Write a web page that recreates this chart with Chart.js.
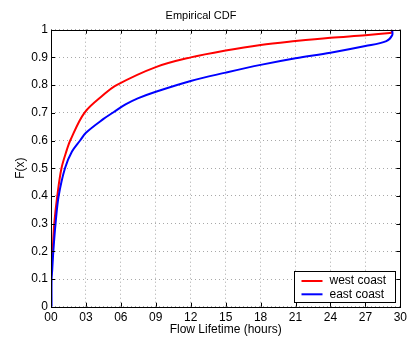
<!DOCTYPE html>
<html>
<head>
<meta charset="utf-8">
<script src="https://cdn.jsdelivr.net/npm/chart.js@4/dist/chart.umd.min.js"></script>
<style>
  html, body { margin: 0; padding: 0; background: #fff; }
  #wrap { width: 411px; height: 337px; }
</style>
</head>
<body>
<div id="wrap"><canvas id="cdf-chart"></canvas></div>
<script>
// start: Data
const westHours = [0, 0, 0.03, 0.08, 0.14, 0.28, 0.54, 0.9, 1.36, 1.65, 2.87, 4.48, 5.63, 9, 12, 15, 18, 21, 24, 27, 29.1, 29.25, 29.25]
const westF     = [0, 0.10, 0.13, 0.16, 0.2, 0.3, 0.4, 0.5, 0.566, 0.6, 0.7, 0.764, 0.8, 0.865, 0.90, 0.925, 0.945, 0.959, 0.971, 0.98, 0.988, 0.99, 1.0]
const eastHours = [0.05, 0.05, 0.1, 0.2, 0.39, 0.66, 1.2, 1.8, 2.5, 3, 4.48, 5.4, 6.4, 7.45, 9, 12, 15, 18, 21, 24, 27, 28.8, 29.3, 29.3]
const eastF     = [0, 0.10, 0.13, 0.2, 0.3, 0.4, 0.5, 0.56, 0.6, 0.628, 0.677, 0.703, 0.73, 0.752, 0.776, 0.815, 0.845, 0.873, 0.897, 0.917, 0.941, 0.959, 0.98, 1.0]
const seriesNames = ['west coast', 'east coast']
const xTickStep = 3
const yTickStep = 0.1
// end: Data

const FONT = "'Liberation Sans', Arial, Helvetica, sans-serif"

function toPoints(xs, ys) {
    return xs.map(function (x, i) { return { x: x, y: ys[i] } })
}

// frame, inward tick marks and boxed legend, matlab style
const matlabFrame = {
    id: 'matlabFrame',
    afterDraw: function (chart) {
        const ctx = chart.ctx
        const a = chart.chartArea
        const xs = chart.scales.x
        const ys = chart.scales.y
        ctx.save()
        ctx.strokeStyle = '#000'
        ctx.lineWidth = 1
        ctx.beginPath()
        xs.ticks.forEach(function (t) {
            const px = Math.round(xs.getPixelForValue(t.value)) + 0.5
            ctx.moveTo(px, a.bottom); ctx.lineTo(px, a.bottom - 4)
            ctx.moveTo(px, a.top); ctx.lineTo(px, a.top + 4)
        })
        ys.ticks.forEach(function (t) {
            const py = Math.round(ys.getPixelForValue(t.value)) + 0.5
            ctx.moveTo(a.left, py); ctx.lineTo(a.left + 4, py)
            ctx.moveTo(a.right, py); ctx.lineTo(a.right - 4, py)
        })
        ctx.stroke()
        ctx.strokeRect(Math.round(a.left) + 0.5, Math.round(a.top) + 0.5,
            Math.round(a.right - a.left), Math.round(a.bottom - a.top))

        // legend box
        const bx = Math.round(a.right) - 105.5
        const by = Math.round(a.bottom) - 35.5
        const bw = 101
        const bh = 31
        ctx.fillStyle = '#fff'
        ctx.fillRect(bx, by, bw, bh)
        ctx.strokeRect(bx, by, bw, bh)
        ctx.font = '12px ' + FONT
        ctx.textBaseline = 'middle'
        chart.data.datasets.forEach(function (ds, i) {
            const cy = by + 9.5 + i * 13.3
            ctx.strokeStyle = ds.borderColor
            ctx.lineWidth = 2
            ctx.beginPath()
            ctx.moveTo(bx + 7, cy); ctx.lineTo(bx + 28, cy)
            ctx.stroke()
            ctx.fillStyle = '#000'
            ctx.fillText(ds.label, bx + 35, cy)
        })
        ctx.restore()
    }
}

new Chart(document.getElementById('cdf-chart'), {
    type: 'scatter',
    data: {
        datasets: [
            {
                label: seriesNames[0],
                data: toPoints(westHours, westF),
                showLine: true,
                borderColor: 'rgb(255, 0, 0)',
                borderWidth: 2,
                pointRadius: 0,
                tension: 0.35,
                order: 2
            },
            {
                label: seriesNames[1],
                data: toPoints(eastHours, eastF),
                showLine: true,
                borderColor: 'rgb(0, 0, 255)',
                borderWidth: 2,
                pointRadius: 0,
                tension: 0.35,
                order: 1
            }
        ]
    },
    options: {
        responsive: true,
        maintainAspectRatio: false,
        animation: false,
        layout: { padding: { left: 0, right: 9, top: 0, bottom: 0 } },
        plugins: {
            legend: { display: false },
            tooltip: { enabled: false },
            title: {
                display: true,
                text: 'Empirical CDF',
                color: '#000',
                font: { family: FONT, size: 11, weight: 'normal' },
                padding: { top: 9, bottom: 7.5 }
            }
        },
        scales: {
            x: {
                type: 'linear',
                min: 0,
                max: 30,
                afterFit: function (scale) { scale.height = 30.3 },
                ticks: {
                    stepSize: xTickStep,
                    color: '#000',
                    padding: 4,
                    maxRotation: 0,
                    font: { family: FONT, size: 12 },
                    callback: function (v) { return String(Math.round(v)).padStart(2, '0') }
                },
                grid: { color: '#a8a8a8', lineWidth: 1, drawTicks: false },
                border: { display: false, dash: [1, 3] },
                title: {
                    display: true,
                    text: 'Flow Lifetime (hours)',
                    color: '#000',
                    font: { family: FONT, size: 12 },
                    padding: { top: 0, bottom: 0 }
                }
            },
            y: {
                min: 0,
                max: 1,
                afterFit: function (scale) { scale.width = 51 },
                ticks: {
                    stepSize: yTickStep,
                    color: '#000',
                    padding: 3,
                    font: { family: FONT, size: 12 },
                    callback: function (v) {
                        const r = Math.round(v * 10) / 10
                        return (r === 0 || r === 1) ? String(r) : r.toFixed(1)
                    }
                },
                grid: { color: '#a8a8a8', lineWidth: 1, drawTicks: false },
                border: { display: false, dash: [1, 3] },
                title: {
                    display: true,
                    text: 'F(x)',
                    color: '#000',
                    font: { family: FONT, size: 12 },
                    padding: { top: 13, bottom: 0 }
                }
            }
        }
    },
    plugins: [matlabFrame]
});
</script>
</body>
</html>
